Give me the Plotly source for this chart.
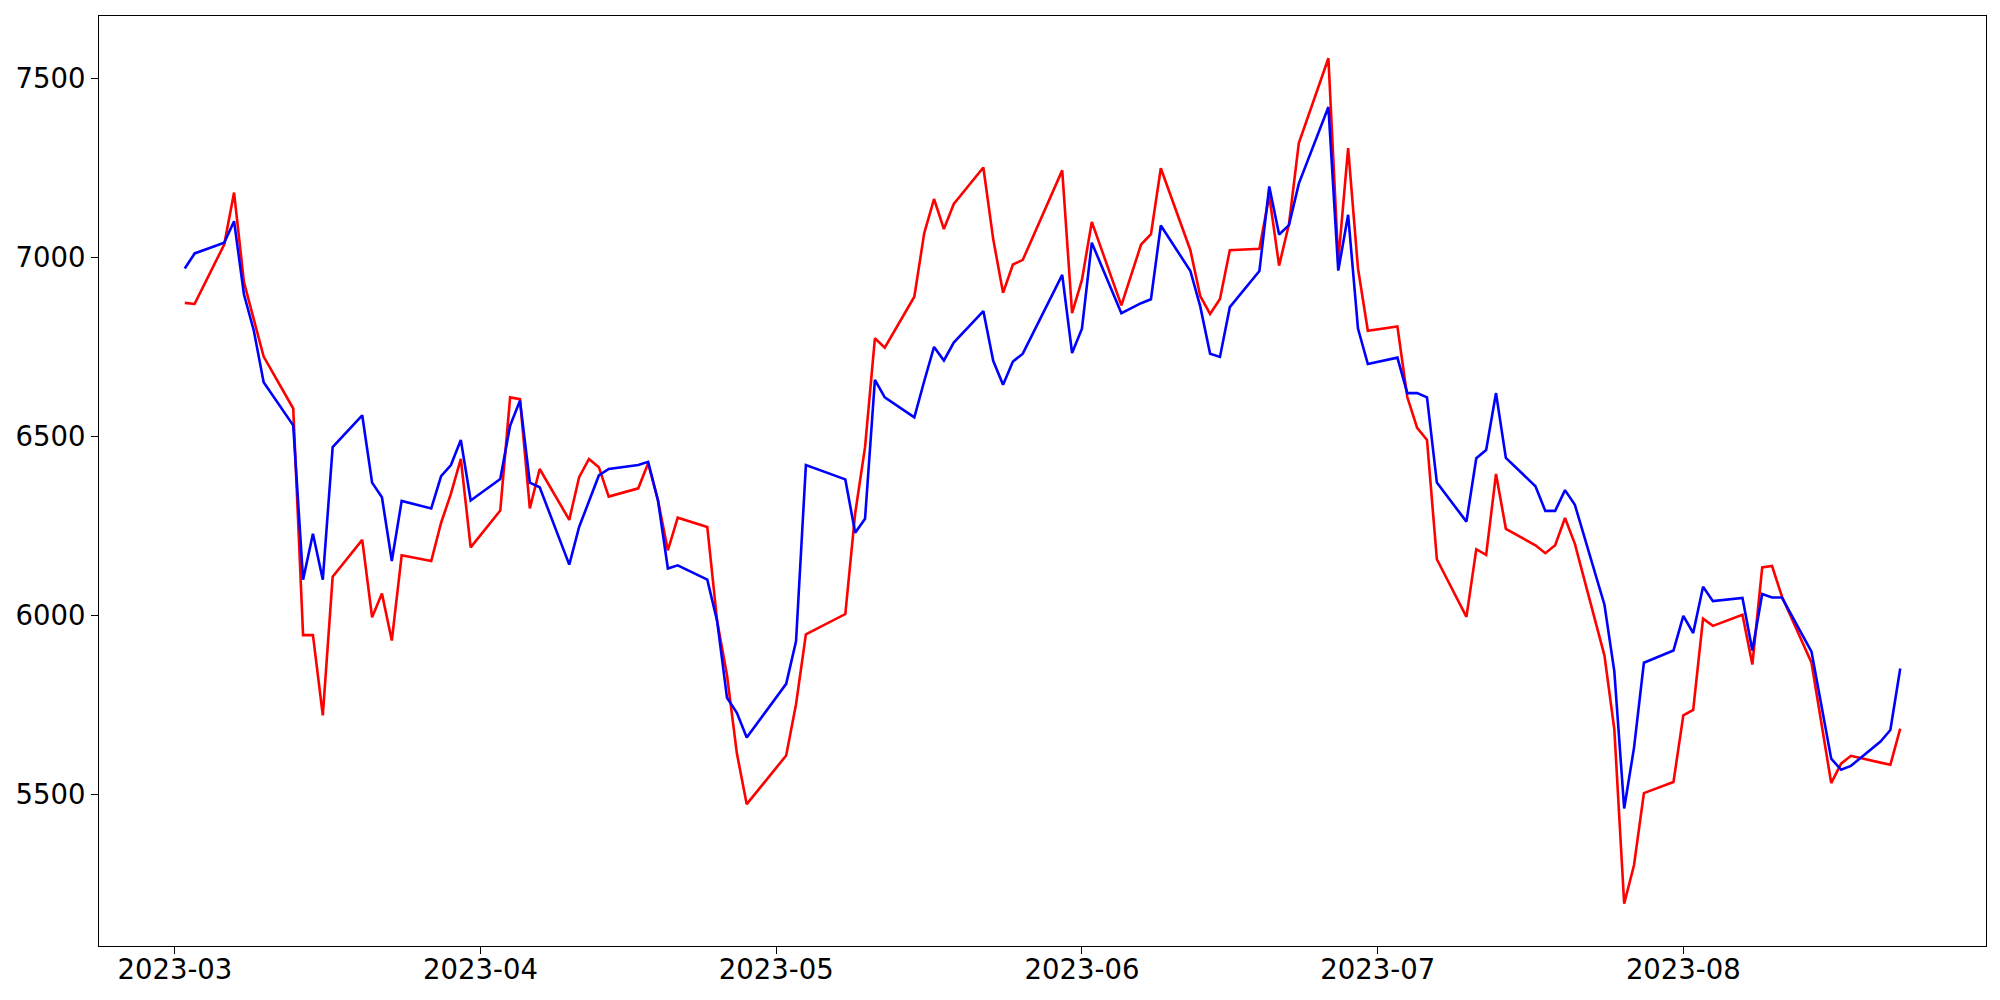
import pandas as pd
import plotly.graph_objects as go

# Trading days (KRX calendar, holidays removed)
holidays = ["2023-05-01", "2023-05-05", "2023-05-29", "2023-06-06", "2023-08-15"]
dates = pd.bdate_range("2023-03-02", "2023-08-23", freq="C", holidays=holidays)

red_values = [
    # Mar
    6873, 6870, 7036, 7181, 6931, 6827, 6723, 6578, 5945, 5945, 5721, 6108, 6211, 5995, 6061, 5930,
    6168, 6152, 6259, 6340, 6437, 6190,
    # Apr
    6293, 6609, 6604, 6299, 6409, 6267, 6386, 6437, 6414, 6332, 6355, 6425, 6321, 6182, 6273, 6247,
    5984, 5833, 5615, 5473,
    # May
    5609, 5752, 5947, 6004, 6285, 6470, 6774, 6748, 6890, 7067, 7163, 7079, 7149, 7251, 7051, 6901,
    6980, 6993, 7243, 6844,
    # Jun
    6937, 7099, 6866, 7036, 7065, 7249, 7020, 6892, 6842, 6884, 7020, 7024, 7172, 6977, 7093, 7319,
    7556, 6990, 7305, 6969, 6795,
    # Jul
    6807, 6610, 6524, 6490, 6157, 5996, 6185, 6169, 6395, 6242, 6196, 6174, 6196, 6272, 6200, 5888,
    5682, 5195, 5303, 5504, 5535,
    # Aug
    5721, 5736, 5991, 5971, 6002, 5863, 6134, 6138, 6053, 5868, 5532, 5586, 5608, 5589, 5583, 5684,
]

blue_values = [
    # Mar
    6969, 7011, 7041, 7101, 6897, 6796, 6651, 6531, 6100, 6228, 6100, 6470, 6559, 6371, 6330, 6152,
    6320, 6299, 6389, 6420, 6490, 6321,
    # Apr
    6381, 6530, 6600, 6371, 6358, 6142, 6247, 6321, 6391, 6409, 6420, 6429, 6321, 6131, 6140, 6100,
    5984, 5770, 5728, 5659,
    # May
    5809, 5928, 6420, 6380, 6231, 6270, 6658, 6609, 6553, 6654, 6750, 6712, 6762, 6850, 6711, 6644,
    6709, 6731, 6951, 6733,
    # Jun
    6801, 7041, 6844, 6872, 6883, 7089, 6962, 6863, 6731, 6722, 6861, 6962, 7198, 7064, 7090, 7206,
    7420, 6963, 7119, 6801, 6702,
    # Jul
    6720, 6621, 6621, 6609, 6371, 6262, 6439, 6462, 6621, 6440, 6361, 6292, 6292, 6350, 6309, 6030,
    5844, 5461, 5631, 5868, 5902,
    # Aug
    5999, 5951, 6080, 6040, 6049, 5902, 6060, 6050, 6050, 5899, 5600, 5569, 5580, 5648, 5680, 5852,
]

x_tick_values = ["2023-03-01", "2023-04-01", "2023-05-01", "2023-06-01", "2023-07-01", "2023-08-01"]
x_tick_labels = ["2023-03", "2023-04", "2023-05", "2023-06", "2023-07", "2023-08"]
y_tick_values = [5500, 6000, 6500, 7000, 7500]

fig = go.Figure()
fig.add_trace(go.Scatter(x=dates, y=red_values, mode="lines",
                         line=dict(color="#ff0000", width=2.6), name="red"))
fig.add_trace(go.Scatter(x=dates, y=blue_values, mode="lines",
                         line=dict(color="#0000ff", width=2.6), name="blue"))

# matplotlib-like 5% margins
span = dates[-1] - dates[0]
xr = [dates[0] - span * 0.05, dates[-1] + span * 0.05]
allv = red_values + blue_values
vmin, vmax = min(allv), max(allv)
pad = (vmax - vmin) * 0.05
yr = [vmin - pad, vmax + pad]

font = dict(family="DejaVu Sans", size=27.5, color="black")
axis_common = dict(showline=True, linecolor="black", linewidth=1.1, mirror=True,
                   ticks="outside", ticklen=7, tickwidth=1.1, tickcolor="black",
                   showgrid=False, zeroline=False, tickfont=font)

fig.update_layout(
    width=2000, height=1000, autosize=False,
    margin=dict(l=87, r=22, t=7, b=62),
    paper_bgcolor="white", plot_bgcolor="white",
    showlegend=False,
    xaxis=dict(range=[str(xr[0]), str(xr[1])], tickvals=x_tick_values, ticktext=x_tick_labels,
               ticklabelstandoff=-8, **axis_common),
    yaxis=dict(range=yr, tickvals=y_tick_values, ticklabelstandoff=0, **axis_common),
)

fig.write_html("out.html")
